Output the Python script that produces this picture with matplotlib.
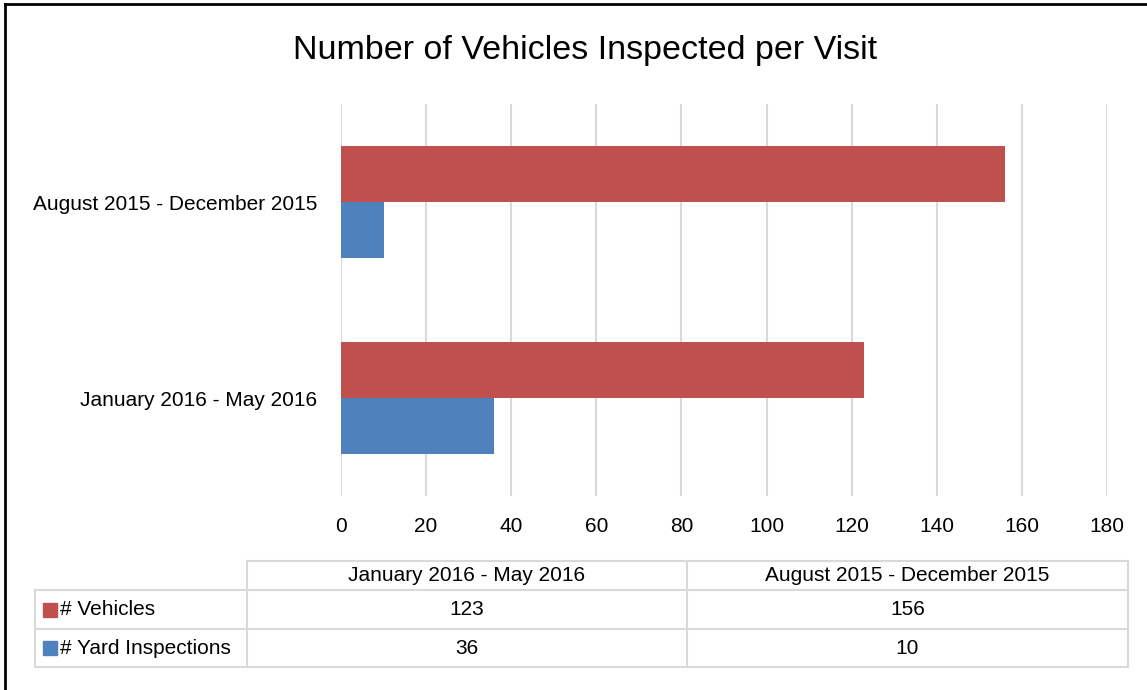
import matplotlib.pyplot as plt
from matplotlib.lines import Line2D
from matplotlib.patches import Rectangle

# Dados
periodos = ['January 2016 - May 2016', 'August 2015 - December 2015']
veiculos = [123, 156]
inspecoes = [36, 10]
series = ['# Vehicles', '# Yard Inspections']
cores = ['#C0504D', '#4F81BD']
ticks_x = [0, 20, 40, 60, 80, 100, 120, 140, 160, 180]

W, H = 1147, 690
plt.rcParams['font.family'] = ['Liberation Sans', 'DejaVu Sans']
TAM = 15  # tamanho do texto dos eixos e da tabela

fig = plt.figure(figsize=(W / 100, H / 100), dpi=100)


def px(x, y):
    # pixel (origem no canto superior esquerdo) -> coordenadas da figura
    return x / W, 1 - y / H


# Eixo principal
x0, y0 = px(341, 496)
x1, y1 = px(1107, 104)
ax = fig.add_axes([x0, y0, x1 - x0, y1 - y0])

pos = list(range(len(periodos)))
alt = 0.2857
ax.barh([p + alt / 2 for p in pos], veiculos, height=alt, color=cores[0], zorder=3)
ax.barh([p - alt / 2 for p in pos], inspecoes, height=alt, color=cores[1], zorder=3)

ax.set_xlim(0, 180)
ax.set_ylim(-0.5, len(periodos) - 0.5)
ax.set_xticks(ticks_x)
ax.set_yticks(pos)
ax.set_yticklabels(periodos)
ax.tick_params(axis='both', length=0, labelsize=TAM, colors='black')
ax.tick_params(axis='x', pad=15)
ax.tick_params(axis='y', pad=17)
ax.grid(axis='x', color='#D9D9D9', linewidth=1.5, zorder=0)
for s in ax.spines.values():
    s.set_visible(False)

# Titulo
fig.text(*px(585, 50), 'Number of Vehicles Inspected per Visit', fontsize=24.5,
         ha='center', va='center')

# Tabela de dados
cinza = '#D9D9D9'
lx, c1, c2, rx = 35, 247, 687, 1128
ty, r1, r2, by = 561, 590, 629, 667


def linha(xa, ya, xb, yb):
    (fa, ga), (fb, gb) = px(xa, ya), px(xb, yb)
    fig.add_artist(Line2D([fa, fb], [ga, gb], color=cinza, linewidth=1.5))


linha(c1, ty, rx, ty)
linha(lx, r1, rx, r1)
linha(lx, r2, rx, r2)
linha(lx, by, rx, by)
linha(lx, r1, lx, by)
linha(c1, ty, c1, by)
linha(c2, ty, c2, by)
linha(rx, ty, rx, by)

centros_col = [(c1 + c2) / 2, (c2 + rx) / 2]
centros_lin = [(r1 + r2) / 2, (r2 + by) / 2]
for cx, nome in zip(centros_col, periodos):
    fig.text(*px(cx, (ty + r1) / 2), nome, fontsize=TAM, ha='center', va='center')

valores = [veiculos, inspecoes]
for cy, nome, cor, vals in zip(centros_lin, series, cores, valores):
    fa, ga = px(43, cy + 7)
    fig.add_artist(Rectangle((fa, ga), 14 / W, 14 / H, color=cor))
    fig.text(*px(60, cy), nome, fontsize=TAM, ha='left', va='center')
    for cx, v in zip(centros_col, vals):
        fig.text(*px(cx, cy), str(v), fontsize=TAM, ha='center', va='center')

# Borda externa
fig.add_artist(Line2D([5 / W, 5 / W], [0, 1 - 4 / H], color='black', linewidth=2))
fig.add_artist(Line2D([5 / W, 1], [1 - 4 / H, 1 - 4 / H], color='black', linewidth=2))

fig.savefig('out.png', dpi=100)
